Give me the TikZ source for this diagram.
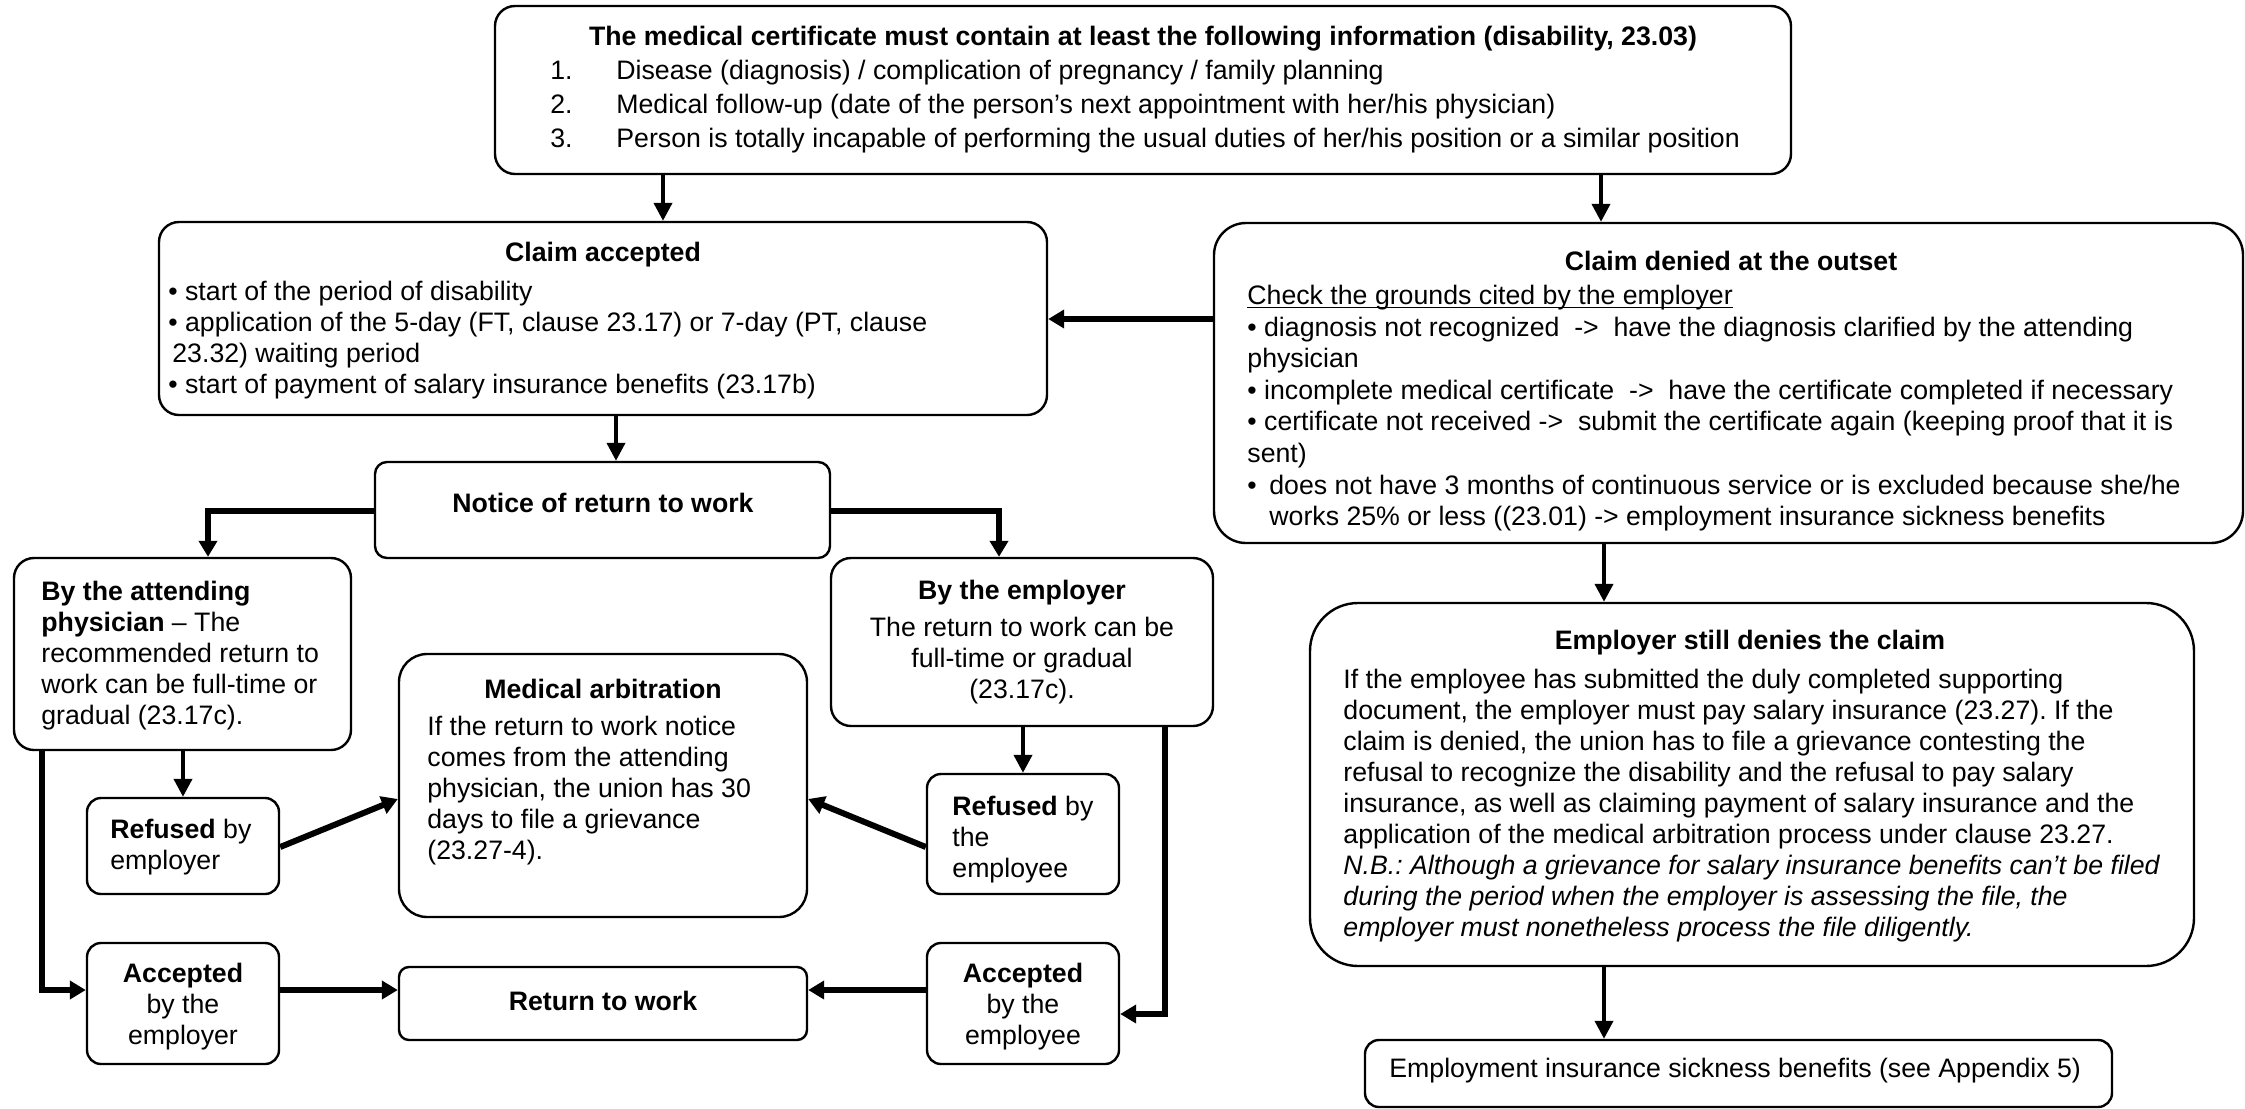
\documentclass[tikz,border=0pt]{standalone}
\usepackage{fontspec}
\setmainfont{Liberation Sans}
\usetikzlibrary{arrows.meta,fit,calc}
\frenchspacing
\newcommand\fs{\fontsize{13.35pt}{15.5pt}\selectfont\frenchspacing}
\newcommand\fl{\rule{0pt}{12pt}}
\tikzset{
  box/.style={draw, line width=1.2pt, rounded corners=#1, inner sep=0pt},
  box/.default=6pt,
  txt/.style={inner sep=0pt, align=left, anchor=north west, font=\fs},
  ctxt/.style={inner sep=0pt, align=center, anchor=north, font=\fs},
  head/.style={inner sep=0pt, font=\fs\bfseries},
  arr/.style={line width=2pt, -{Triangle[length=9pt,width=9pt]}},
  tarr/.style={line width=3pt, -{Triangle[length=8pt,width=9pt]}},
}
\begin{document}
\begin{tikzpicture}[x=0.5pt,y=-0.5pt]
\useasboundingbox (0,0) rectangle (2245,1109);
% boxes
\node[box=10pt, fit={(495,6) (1791,174)}] (cert) {};
\node[box=10pt, fit={(159,222) (1047,415)}] (acc) {};
\node[box=16pt, fit={(1214,223) (2243,543)}] (den) {};
\node[box=6pt, fit={(375,462) (830,558)}] (notice) {};
\node[box=10pt, fit={(14,558) (351,750)}] (attend) {};
\node[box=10pt, fit={(831,558) (1213,726)}] (emp) {};
\node[box=14pt, fit={(399,654) (807,917)}] (arb) {};
\node[box=7pt, fit={(87,798) (279,894)}] (refE) {};
\node[box=7pt, fit={(927,774) (1119,894)}] (refW) {};
\node[box=7pt, fit={(87,943) (279,1064)}] (accE) {};
\node[box=7pt, fit={(927,943) (1119,1064)}] (accW) {};
\node[box=5pt, fit={(399,967) (807,1040)}] (ret) {};
\node[box=24pt, fit={(1310,603) (2194,966)}] (still) {};
\node[box=7pt, fit={(1365,1040) (2112,1107)}] (ei) {};
% texts
\node[head] (certh) at (1143,39) {The medical certificate must contain at least the following information (disability, 23.03)};
\node[txt, font=\fontsize{13.35pt}{17pt}\selectfont] (certt) at (550,55) {\fl\makebox[33pt][l]{1.}Disease (diagnosis) / complication of pregnancy / family planning\\
\makebox[33pt][l]{2.}Medical follow-up (date of the person’s next appointment with her/his physician)\\
\makebox[33pt][l]{3.}Person is totally incapable of performing the usual duties of her/his position or a similar position};
\node[head] (acch) at (603,255) {Claim accepted};
\node[txt] (acct) at (168,276) {\fl• start of the period of disability\\
• application of the 5-day (FT, clause 23.17) or 7-day (PT, clause\\
\hspace*{2pt}23.32) waiting period\\
• start of payment of salary insurance benefits (23.17b)};
\node[head] (denh) at (1731,261) {Claim denied at the outset};
\node[txt, font=\fontsize{13.35pt}{15.8pt}\selectfont] (dent) at (1247,280) {\fl\underline{\smash{Check the grounds cited by the employer}}\\
• diagnosis not recognized\ \ ->\ \ have the diagnosis clarified by the attending\\
physician\\
• incomplete medical certificate\ \ ->\ \ have the certificate completed if necessary\\
• certificate not received ->\ \ submit the certificate again (keeping proof that it is\\
sent)\\
\makebox[11pt][l]{•}does not have 3 months of continuous service or is excluded because she/he\\
\hspace*{11pt}works 25\% or less ((23.01) -> employment insurance sickness benefits};
\node[head] (noticeh) at (603,503) {Notice of return to work};
\node[txt] (attendt) at (41,576) {\fl\textbf{By the attending}\\
\textbf{physician} – The\\
recommended return to\\
work can be full-time or\\
gradual (23.17c).};
\node[ctxt] (empt) at (1022,575) {\fl\textbf{By the employer}\\[3pt]
The return to work can be\\
full-time or gradual\\
(23.17c).};
\node[head] (arbh) at (603,689) {Medical arbitration};
\node[txt] (arbt) at (427,711) {\fl If the return to work notice\\
comes from the attending\\
physician, the union has 30\\
days to file a grievance\\
(23.27-4).};
\node[txt] (refEt) at (110,814) {\fl\textbf{Refused} by\\ employer};
\node[txt] (refWt) at (952,791) {\fl\textbf{Refused} by\\ the\\ employee};
\node[ctxt] (accEt) at (183,958) {\fl\textbf{Accepted}\\ by the\\ employer};
\node[ctxt] (accWt) at (1023,958) {\fl\textbf{Accepted}\\ by the\\ employee};
\node[head] (reth) at (603,1001) {Return to work};
\node[head] (stillh) at (1750,643) {Employer still denies the claim};
\node[txt] (stillt) at (1343,664) {\fl If the employee has submitted the duly completed supporting\\
document, the employer must pay salary insurance (23.27). If the\\
claim is denied, the union has to file a grievance contesting the\\
refusal to recognize the disability and the refusal to pay salary\\
insurance, as well as claiming payment of salary insurance and the\\
application of the medical arbitration process under clause 23.27.\\
\textit{N.B.: Although a grievance for salary insurance benefits can’t be filed}\\
\textit{during the period when the employer is assessing the file, the}\\
\textit{employer must nonetheless process the file diligently.}};
\node[txt] (eit) at (1389,1053) {\fl Employment insurance sickness benefits (see Appendix 5)};
% guide coordinates
\coordinate (xa) at (663,0);
\coordinate (xb) at (1601,0);
\coordinate (ya) at (0,319);
\coordinate (xc) at (616,0);
\coordinate (yn) at (0,511);
\coordinate (xd) at (208,0);
\coordinate (xe) at (999,0);
\coordinate (xf) at (1604,0);
\coordinate (xg) at (183,0);
\coordinate (xh) at (42,0);
\coordinate (yr) at (0,990);
\coordinate (xi) at (1023,0);
\coordinate (xj) at (1165,0);
\coordinate (yk) at (0,1014);
\coordinate (yd) at (0,847);
\coordinate (ye) at (0,799);
% connectors
\draw[arr] (cert.south -| xa) -- (acc.north -| xa);
\draw[arr] (cert.south -| xb) -- (den.north -| xb);
\draw[tarr] (den.west |- ya) -- (acc.east |- ya);
\draw[arr] (acc.south -| xc) -- (notice.north -| xc);
\draw[tarr] (notice.west |- yn) -| (attend.north -| xd);
\draw[tarr] (notice.east |- yn) -| (emp.north -| xe);
\draw[arr] (den.south -| xf) -- (still.north -| xf);
\draw[arr] (still.south -| xf) -- (ei.north -| xf);
\draw[arr] (attend.south -| xg) -- (refE.north -| xg);
\draw[tarr] (attend.south -| xh) |- (accE.west |- yr);
\draw[arr] (emp.south -| xi) -- (refW.north -| xi);
\draw[tarr] (emp.south -| xj) |- (accW.east |- yk);
\draw[tarr] (refE.east |- yd) -- (arb.west |- ye);
\draw[tarr] (refW.west |- yd) -- (arb.east |- ye);
\draw[tarr] (accE.east |- yr) -- (ret.west |- yr);
\draw[tarr] (accW.west |- yr) -- (ret.east |- yr);
\end{tikzpicture}
\end{document}
